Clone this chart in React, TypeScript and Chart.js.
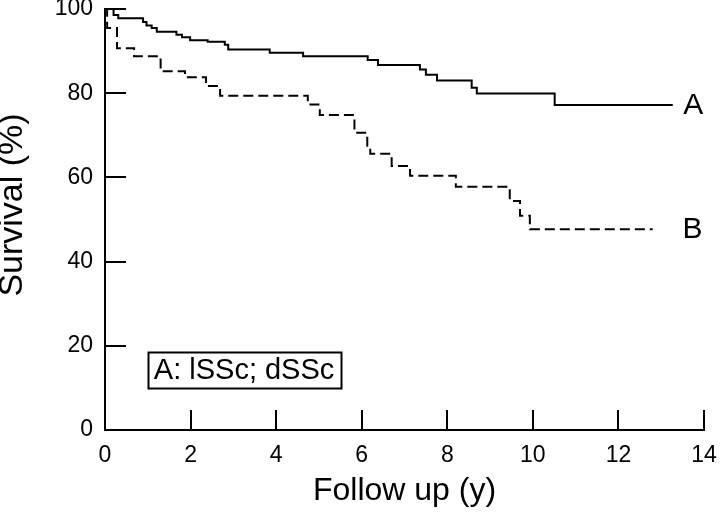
import React, { useEffect, useRef } from 'react';
import { Chart, registerables } from 'chart.js';

Chart.register(...registerables);

// ---- data ----
const yearsA = [0, 0.2, 0.31, 0.89, 0.97, 1.09, 1.21, 1.67, 1.8, 1.99, 2.4, 2.8, 2.88, 3.85, 4.63, 6.14, 6.38, 7.36, 7.5, 7.76, 8.57, 8.69, 10.51, 13.27];
const survivalA = [100, 98.6, 97.8, 96.9, 96.1, 95.5, 94.6, 93.9, 93.3, 92.6, 92.2, 91.5, 90.4, 89.6, 88.8, 87.9, 86.7, 85.6, 84.4, 83.0, 81.3, 79.9, 77.2, 77.2];

const yearsB = [0, 0.05, 0.28, 0.68, 1.3, 1.87, 2.36, 2.69, 4.74, 5.02, 5.83, 6.13, 6.2, 6.7, 7.13, 8.2, 9.46, 9.7, 9.93, 12.8];
const survivalB = [100, 95.5, 90.7, 88.8, 85.2, 83.8, 81.7, 79.4, 77.3, 74.8, 70.6, 67.5, 65.6, 62.7, 60.4, 57.8, 54.4, 50.9, 47.7, 47.7];

const xTicks = [0, 2, 4, 6, 8, 10, 12, 14];
const yTicks = [0, 20, 40, 60, 80, 100];
const xTitle = 'Follow up (y)';
const yTitle = 'Survival (%)';
const curveLabels = ['A', 'B'];
const legendText = 'A: lSSc; dSSc';

const FONT = "'Liberation Sans', Arial, Helvetica, sans-serif";
const INK = '#000';

const annotPlugin = {
  id: 'annot',
  afterDraw(chart: any) {
    const { ctx, chartArea, scales } = chart;
    const x = scales.x;
    const y = scales.y;
    ctx.save();
    ctx.strokeStyle = INK;
    ctx.lineWidth = 2;
    // inward tick marks
    xTicks.forEach((v) => {
      if (v === 0) return;
      const px = Math.round(x.getPixelForValue(v));
      ctx.beginPath();
      ctx.moveTo(px, chartArea.bottom);
      ctx.lineTo(px, chartArea.bottom - 20);
      ctx.stroke();
    });
    yTicks.forEach((v) => {
      if (v === 0) return;
      const py = Math.round(y.getPixelForValue(v));
      ctx.beginPath();
      ctx.moveTo(chartArea.left, py);
      ctx.lineTo(chartArea.left + 21, py);
      ctx.stroke();
    });

    // curve end labels
    ctx.fillStyle = INK;
    ctx.font = `30px ${FONT}`;
    ctx.textAlign = 'center';
    ctx.textBaseline = 'middle';
    const lastA = survivalA[survivalA.length - 1];
    const lastB = survivalB[survivalB.length - 1];
    ctx.fillText(curveLabels[0], x.getPixelForValue(13.75), y.getPixelForValue(lastA) + 1);
    ctx.fillText(curveLabels[1], x.getPixelForValue(13.73), y.getPixelForValue(lastB) + 1);

    // legend box
    ctx.font = `29px ${FONT}`;
    const cx = x.getPixelForValue(3.25);
    const cy = y.getPixelForValue(14.2);
    const w = ctx.measureText(legendText).width;
    const bw = w + 12;
    const bh = 36;
    ctx.lineWidth = 2;
    ctx.strokeRect(Math.round(cx - bw / 2) + 0.5, Math.round(cy - bh / 2) + 0.5, Math.round(bw), bh);
    ctx.fillText(legendText, cx, cy + 1);

    // y axis title
    ctx.save();
    ctx.translate(13, 205);
    ctx.rotate(-Math.PI / 2);
    ctx.font = `34px ${FONT}`;
    ctx.textAlign = 'center';
    ctx.textBaseline = 'middle';
    ctx.fillText(yTitle, 0, 0);
    ctx.restore();

    ctx.restore();
  },
};

export default function App() {
  const ref = useRef<HTMLCanvasElement | null>(null);

  useEffect(() => {
    document.body.style.margin = '0';
    const canvas = ref.current;
    if (!canvas) return;
    const chart = new Chart(canvas, {
      type: 'line',
      data: {
        datasets: [
          {
            label: curveLabels[0],
            data: yearsA.map((t, i) => ({ x: t, y: survivalA[i] })),
            borderColor: INK,
            borderWidth: 2,
            stepped: true,
            pointRadius: 0,
            fill: false,
          },
          {
            label: curveLabels[1],
            data: yearsB.map((t, i) => ({ x: t, y: survivalB[i] })),
            borderColor: INK,
            borderWidth: 2,
            borderDash: [10, 5],
            stepped: true,
            pointRadius: 0,
            fill: false,
          },
        ],
      },
      options: {
        responsive: false,
        animation: false,
        events: [],
        layout: { padding: { top: 9, right: 16, left: 0, bottom: 0 } },
        plugins: { legend: { display: false }, tooltip: { enabled: false } },
        scales: {
          x: {
            type: 'linear',
            min: 0,
            max: 14,
            grid: { display: false, drawTicks: false },
            border: { display: true, color: INK, width: 2 },
            ticks: {
              stepSize: 2,
              padding: 12,
              color: INK,
              maxRotation: 0,
              font: { family: FONT, size: 23 },
            },
            title: {
              display: true,
              text: xTitle,
              color: INK,
              font: { family: FONT, size: 32 },
              padding: { top: 0, bottom: 4 },
            },
            afterFit: (s: any) => {
              s.height = 84;
              s.paddingLeft = 0;
              s.paddingRight = 0;
            },
          },
          y: {
            type: 'linear',
            min: 0,
            max: 100,
            grid: { display: false, drawTicks: false },
            border: { display: true, color: INK, width: 2 },
            ticks: {
              stepSize: 20,
              padding: 12,
              color: INK,
              font: { family: FONT, size: 23 },
            },
            afterFit: (s: any) => {
              s.width = 105;
              s.paddingTop = 0;
              s.paddingBottom = 0;
            },
          },
        },
      },
      plugins: [annotPlugin],
    });
    return () => chart.destroy();
  }, []);

  return (
    <div style={{ width: 720, height: 514, background: '#fff' }}>
      <canvas ref={ref} width={720} height={514} />
    </div>
  );
}
